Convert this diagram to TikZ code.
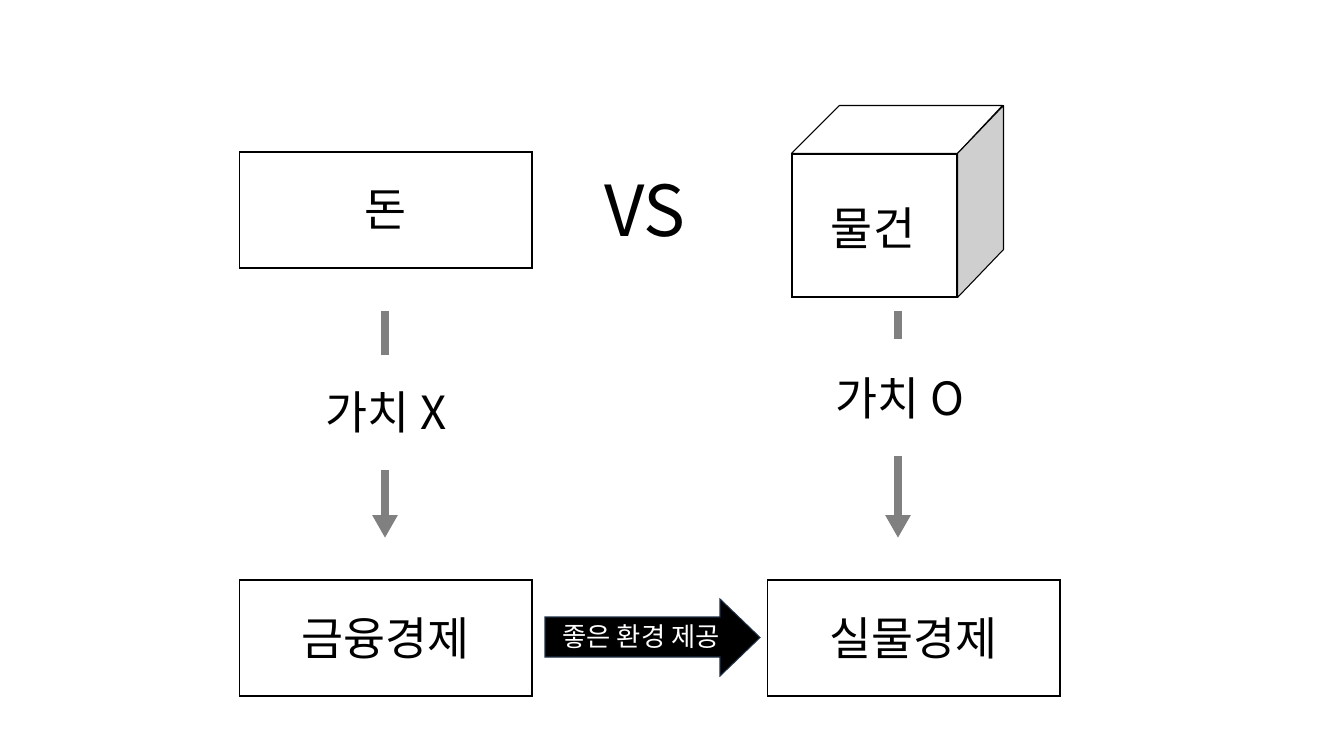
\documentclass[tikz,border=0pt]{standalone}
\usepackage{fontspec}
\setmainfont{Noto Sans CJK KR}
\usetikzlibrary{arrows.meta}
\definecolor{bargray}{HTML}{808080}
\definecolor{sidegray}{HTML}{CFCFCF}
\definecolor{arrowedge}{HTML}{1F2F45}
\tikzset{
  box/.style={draw=black, line width=0.6pt, fill=white, minimum width=5.86cm, minimum height=2.32cm, inner sep=0pt, font=\fontsize{26}{30}\selectfont},
  lbl/.style={inner sep=0pt, font=\fontsize{26}{30}\selectfont},
  bar/.style={draw=bargray, line width=0.16cm},
  downarrow/.style={draw=bargray, line width=0.16cm, -{Triangle[width=0.48cm, length=0.46cm]}},
  cubeedge/.style={draw=black, line width=0.6pt, line join=round}
}
\begin{document}
\begin{tikzpicture}[x=0.02cm,y=-0.02cm]
\useasboundingbox (0,0) rectangle (1330,744);
% boxes
\node[box] (money) at (385.5,210) {돈};
\node[box] (fin) at (385.5,638) {금융경제};
\node[box] (real) at (913.5,638) {실물경제};
% VS
\node[inner sep=0pt, font=\fontsize{40}{46}\selectfont] (vs) at (645,211) {VS};
% cube
\node[box, minimum width=3.3cm, minimum height=2.86cm] (cube) at (874.5,225.5) {};
\path[cubeedge, fill=white] (cube.north west) -- ++(48,-48) -- ++(163,0) -- (cube.north east) -- cycle;
\path[cubeedge, fill=sidegray] (cube.north east) -- ++(46,-48) -- ++(0,144) -- (cube.south east) -- cycle;
\node[lbl] (goods) at (873,228) {물건};
% value labels
\node[lbl] (vx) at (386,412) {가치 X};
\node[lbl] (vo) at (900,398) {가치 O};
% connectors
\coordinate (b1s) at (385,311); \coordinate (b1e) at (385,355);
\coordinate (a1s) at (385,470); \coordinate (a1e) at (385,538);
\coordinate (b2s) at (898,311); \coordinate (b2e) at (898,339);
\coordinate (a2s) at (898,456); \coordinate (a2e) at (898,538);
\draw[bar] (b1s) -- (b1e);
\draw[downarrow] (a1s) -- (a1e);
\draw[bar] (b2s) -- (b2e);
\draw[downarrow] (a2s) -- (a2e);
% black arrow
\path[fill=black, draw=arrowedge, line width=0.6pt, line join=miter]
  (545,617) -- (720,617) -- (720,599) -- (760,637.5) -- (720,676) -- (720,657) -- (545,657) -- cycle;
\node[inner sep=0pt, text=white, font=\fontsize{15}{18}\selectfont] (env) at (641,637) {좋은 환경 제공};
\end{tikzpicture}
\end{document}
